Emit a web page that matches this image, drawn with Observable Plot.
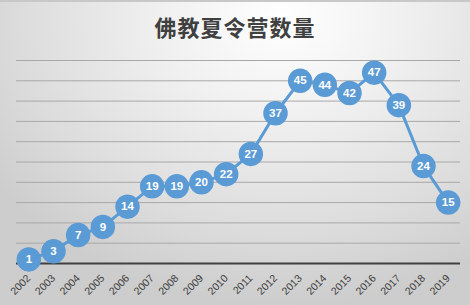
<!DOCTYPE html>
<html>
<head>
<meta charset="utf-8">
<script src="https://cdn.jsdelivr.net/npm/d3@7"></script>
<script src="https://cdn.jsdelivr.net/npm/@observablehq/plot@0.6"></script>
<style>
  html, body { margin: 0; padding: 0; background: #fff; }
  #chart {
    position: relative; width: 470px; height: 305px; overflow: hidden;
    background: radial-gradient(ellipse 75% 95% at 60% 5%, #ffffff 0%, #f0f0f0 35%, #dcdcdc 75%, #cdcdcd 100%);
    box-sizing: border-box; border-top: 2px solid #c8c8c8;
  }
  #title {
    position: absolute; left: 0; width: 470px; top: 11px; text-align: center;
    font-family: "Noto Sans CJK SC", sans-serif; font-weight: bold; font-size: 22px;
    line-height: 26px; color: #404040; letter-spacing: 1px;
  }
  #chart svg { position: absolute; left: 0; top: -2px; }
</style>
</head>
<body>
<div id="chart"><div id="title">佛教夏令营数量</div></div>
<script>
const years = ["2002","2003","2004","2005","2006","2007","2008","2009","2010","2011","2012","2013","2014","2015","2016","2017","2018","2019"];
const counts = [1,3,7,9,14,19,19,20,22,27,37,45,44,42,47,39,24,15];
const gridTicks = [5,10,15,20,25,30,35,40,45,50];

const data = years.map((year, i) => ({year, count: counts[i]}));

const chart = Plot.plot({
  width: 470, height: 305,
  marginLeft: 16, marginRight: 10, marginTop: 60, marginBottom: 42,
  style: {background: "transparent", fontFamily: "'Liberation Sans', Arial, sans-serif", overflow: "visible"},
  x: {type: "point", domain: years, padding: 0.5, round: false, label: null},
  y: {domain: [0, 50], axis: null},
  marks: [
    Plot.ruleY(gridTicks, {stroke: "#a8a8a8", strokeWidth: 1}),
    Plot.ruleY([0], {stroke: "#404040", strokeWidth: 2}),
    Plot.axisX({tickRotate: -45, tickSize: 0, tickPadding: 13, fontSize: 10.5, color: "#404040", label: null}),
    Plot.line(data, {x: "year", y: "count", stroke: "#5B9BD5", strokeWidth: 3}),
    Plot.dot(data, {x: "year", y: "count", r: 11.5, fill: "#5B9BD5", stroke: "#5B9BD5"}),
    Plot.text(data, {x: "year", y: "count", text: "count", fill: "white", fontWeight: "bold", fontSize: 11.5})
  ]
});
document.getElementById("chart").appendChild(chart);
</script>
</body>
</html>
